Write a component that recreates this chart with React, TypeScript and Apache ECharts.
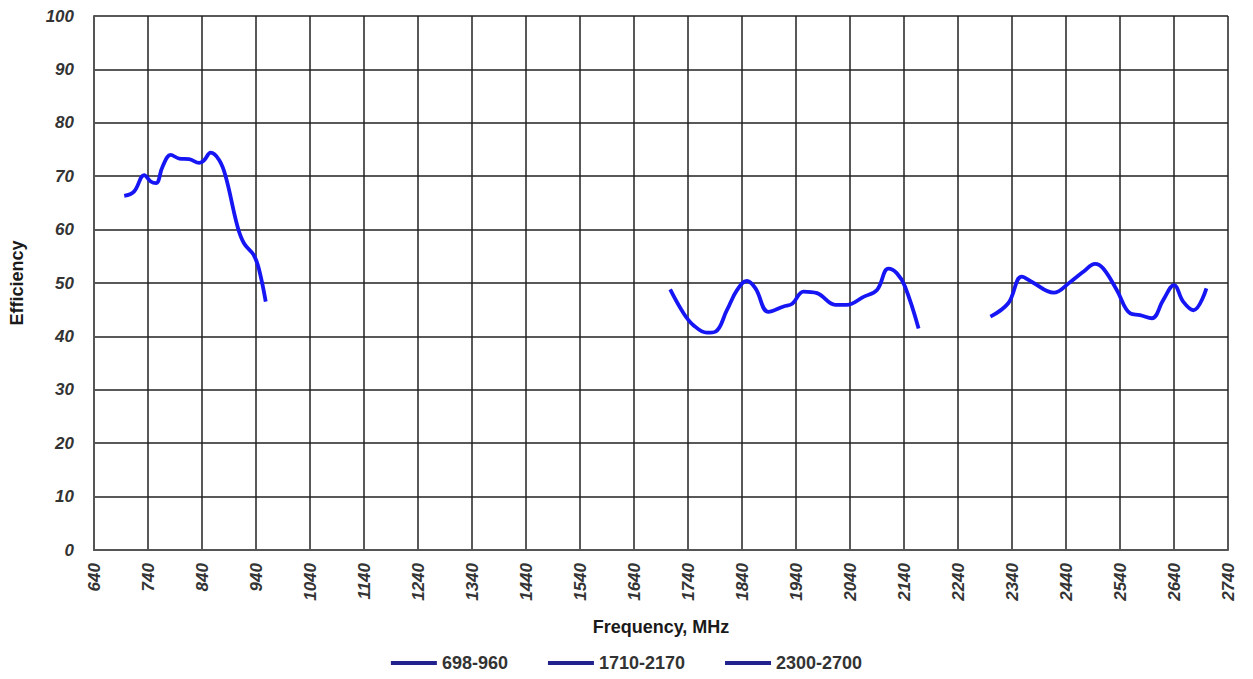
import React, { useEffect, useRef } from "react";
import * as echarts from "echarts";

const xTicks = [640, 2740];
const yRange = [0, 100];

const s1Name = "698-960";
const s1: [number, number][] = [
  [696, 66.3], [714, 67.1], [733, 70.2], [745, 69.0], [755, 68.7], [767, 71.8], [782, 74.0],
  [798, 73.3], [816, 73.2], [835, 72.5], [844, 73.0], [856, 74.4], [872, 73.0], [884, 69.9],
  [906, 60.5], [918, 57.4], [936, 55.2], [946, 52.4], [958, 46.5],
];

const s2Name = "1710-2170";
const s2: [number, number][] = [
  [1707, 48.8], [1732, 44.3], [1750, 42.1], [1775, 40.7], [1791, 40.9], [1812, 44.9],
  [1831, 48.7], [1849, 50.4], [1865, 49.0], [1889, 44.6], [1917, 45.6], [1933, 46.1],
  [1954, 48.4], [1979, 48.1], [2013, 45.9], [2034, 45.9], [2065, 47.4], [2090, 48.7],
  [2111, 52.7], [2127, 51.8], [2142, 49.3], [2167, 41.5],
];

const s3Name = "2300-2700";
const s3: [number, number][] = [
  [2300, 43.7], [2333, 46.2], [2358, 51.2], [2377, 50.2], [2417, 48.2], [2448, 50.2],
  [2472, 52.1], [2494, 53.6], [2509, 52.7], [2534, 48.7], [2559, 44.3], [2577, 44.0],
  [2599, 43.4], [2620, 46.8], [2640, 49.6], [2657, 46.5], [2676, 44.9], [2700, 49.0],
];

export default function App() {
  const ref = useRef<HTMLDivElement>(null);
  useEffect(() => {
    if (!ref.current) return;
    const chart = echarts.init(ref.current, null, { renderer: "svg" });
    const lineColor = "#1616f5";
    const mk = (name: string, data: [number, number][]) => ({
      name,
      type: "line",
      data,
      smooth: 0.4,
      showSymbol: false,
      symbol: "none",
      lineStyle: { color: lineColor, width: 3.8 },
      itemStyle: { color: "#22228e" },
    });
    const font = "Liberation Sans";
    chart.setOption({
      animation: false,
      backgroundColor: "#ffffff",
      grid: { left: 93, right: 25, top: 16, bottom: 129 },
      xAxis: {
        type: "value",
        min: xTicks[0],
        max: xTicks[1],
        interval: 100,
        name: "Frequency, MHz",
        nameLocation: "middle",
        nameGap: 68,
        nameTextStyle: { fontFamily: font, fontWeight: "bold", fontSize: 18, color: "#1a1a1a" },
        axisLine: { lineStyle: { color: "#555", width: 2 } },
        axisTick: { show: false },
        axisLabel: {
          rotate: 90,
          margin: 13,
          fontFamily: font,
          fontStyle: "italic",
          fontWeight: "bold",
          fontSize: 17,
          color: "#333",
          formatter: (v: number) => String(v),
        },
        splitLine: { show: true, lineStyle: { color: "#222", width: 1.5 } },
      },
      yAxis: {
        type: "value",
        min: yRange[0],
        max: yRange[1],
        interval: 10,
        name: "Efficiency",
        nameLocation: "middle",
        nameGap: 68,
        nameTextStyle: { fontFamily: font, fontWeight: "bold", fontSize: 18, color: "#1a1a1a" },
        axisLine: { show: true, lineStyle: { color: "#555", width: 2 } },
        axisTick: { show: false },
        axisLabel: {
          margin: 20,
          fontFamily: font,
          fontStyle: "italic",
          fontWeight: "bold",
          fontSize: 17,
          color: "#333",
        },
        splitLine: { show: true, lineStyle: { color: "#222", width: 1.5 } },
      },
      legend: {
        bottom: 2,
        left: "center",
        itemWidth: 46,
        itemHeight: 4,
        itemGap: 40,
        icon: "rect",
        textStyle: { fontFamily: font, fontWeight: "bold", fontSize: 18, color: "#333" },
        data: [s1Name, s2Name, s3Name],
      },
      series: [mk(s1Name, s1), mk(s2Name, s2), mk(s3Name, s3)],
    });
    return () => chart.dispose();
  }, []);
  return (
    <div
      ref={ref}
      style={{ position: "fixed", left: 0, top: 0, width: 1253, height: 679, background: "#fff" }}
    />
  );
}
